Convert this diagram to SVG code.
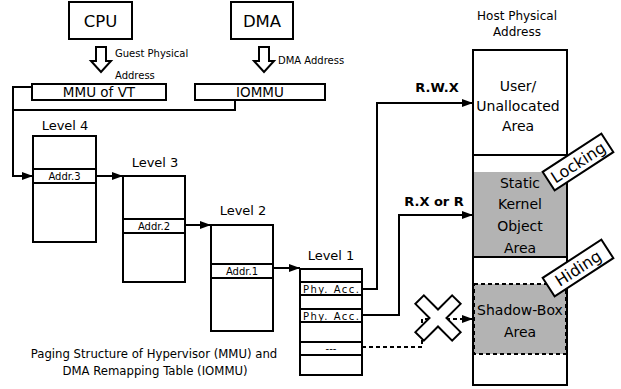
<svg xmlns="http://www.w3.org/2000/svg" width="621" height="389" viewBox="0 0 621 389">
<style>
text{font-family:"DejaVu Sans","Liberation Sans",sans-serif;fill:#000}
.box{fill:#fff;stroke:#000;stroke-width:2}
.ln{fill:none;stroke:#000;stroke-width:2}
.dash{fill:none;stroke:#000;stroke-width:2;stroke-dasharray:4,3}
.c{text-anchor:middle}
.big{font-size:16.5px}
.mid{font-size:13.5px}
.lvl{font-size:13px}
.sm{font-size:10px}
.host{font-size:14px}
.b{font-weight:bold;font-size:13px}
</style>
<defs>
<marker id="ah" markerUnits="userSpaceOnUse" markerWidth="12" markerHeight="10" refX="11" refY="5" orient="auto">
<path d="M0,1 L11,5 L0,9 z" fill="#000"/>
</marker>
</defs>

<g id="cpu"><rect class="box" x="69" y="2" width="63" height="37"/><text class="c big" x="100.5" y="27">CPU</text></g>
<g id="dma"><rect class="box" x="231" y="2" width="62" height="37"/><text class="c big" x="262" y="27">DMA</text></g>

<g id="cpu-arrow"><polygon class="box" points="96,47 106,47 106,61 111,61 101,72 91,61 96,61"/>
<text class="sm" x="115" y="57">Guest Physical</text><text class="sm" x="115" y="79">Address</text></g>
<g id="dma-arrow"><polygon class="box" points="259,47 269,47 269,61 274,61 264,72 254,61 259,61"/>
<text class="sm" x="278" y="64">DMA Address</text></g>

<g id="mmu"><rect class="box" x="32" y="84" width="134" height="16"/><text class="c mid" x="99" y="97">MMU of VT</text></g>
<g id="iommu"><rect class="box" x="195" y="84" width="130" height="16"/><text class="c mid" x="260" y="97">IOMMU</text></g>

<g id="level4"><text class="c lvl" x="65" y="130">Level 4</text>
<rect class="box" x="33" y="136" width="63" height="106"/>
<path class="ln" d="M33,169 H96 M33,183 H96"/>
<text class="c sm" x="64.5" y="180">Addr.3</text></g>

<g id="level3"><text class="c lvl" x="155" y="167">Level 3</text>
<rect class="box" x="123" y="176" width="62" height="106"/>
<path class="ln" d="M123,219 H185 M123,233 H185"/>
<text class="c sm" x="154" y="230">Addr.2</text></g>

<g id="level2"><text class="c lvl" x="243" y="215">Level 2</text>
<rect class="box" x="211" y="225" width="62" height="106"/>
<path class="ln" d="M211,264 H273 M211,278 H273"/>
<text class="c sm" x="242" y="275">Addr.1</text></g>

<g id="level1"><text class="c lvl" x="331" y="260">Level 1</text>
<rect class="box" x="300" y="269" width="62" height="106"/>
<path class="ln" d="M300,282 H362 M300,295 H362 M300,309 H362 M300,322 H362 M300,342 H362 M300,355 H362"/>
<text class="c sm" x="331" y="292.5" textLength="56">Phy. Acc.</text>
<text class="c sm" x="331" y="319.5" textLength="56">Phy. Acc.</text>
<text class="c sm" x="331" y="352">---</text></g>

<g id="host"><text class="c" style="font-size:12px" x="517" y="20">Host Physical</text>
<text class="c" style="font-size:12px" x="517" y="36">Address</text>
<rect class="box" x="473" y="50" width="94" height="335"/>
<rect x="474" y="172" width="92" height="85" fill="#b3b3b3"/>
<path class="ln" d="M473,155 H567 M473,257 H567"/>
<rect x="474" y="284" width="92" height="70" fill="#b3b3b3" stroke="#000" stroke-width="2" stroke-dasharray="4,3"/>
<path class="ln" d="M473,50 V385"/>
<text class="c host" x="518" y="91">User/</text>
<text class="c host" x="518" y="111">Unallocated</text>
<text class="c host" x="518" y="131">Area</text>
<text class="c host" x="520" y="188">Static</text>
<text class="c host" x="520" y="209">Kernel</text>
<text class="c host" x="520" y="231">Object</text>
<text class="c host" x="520" y="253">Area</text>
<text class="c host" x="520" y="315">Shadow-Box</text>
<text class="c host" x="520" y="337">Area</text></g>

<g id="connectors">
<path class="ln" d="M32,87 H13 V176 H33" marker-end="url(#ah)"/>
<path class="ln" d="M235,100 V110 H13"/>
<path class="ln" d="M96,176 H123" marker-end="url(#ah)"/>
<path class="ln" d="M185,225 H211" marker-end="url(#ah)"/>
<path class="ln" d="M273,268 H300" marker-end="url(#ah)"/>
<path class="ln" d="M362,289 H377 V103 H473" marker-end="url(#ah)"/>
<path class="ln" d="M362,315 H399 V215 H473" marker-end="url(#ah)"/>
<path class="dash" d="M362,347 H422 V319 H462"/>
<path d="M462,319 H473" stroke="#000" stroke-width="2" marker-end="url(#ah)"/>
<text class="c b" x="437" y="92">R.W.X</text>
<text class="c b" x="434" y="206">R.X or R</text>
</g>

<g id="cross"><polygon transform="translate(438,318) rotate(45)" fill="#fff" stroke="#000" stroke-width="2" points="-6,-26 6,-26 6,-6 26,-6 26,6 6,6 6,26 -6,26 -6,6 -26,6 -26,-6 -6,-6"/></g>

<g id="locking" transform="translate(578,162) rotate(-33)"><rect class="box" x="-35" y="-11" width="70" height="22"/><text class="c" style="font-size:16px" x="0" y="6">Locking</text></g>
<g id="hiding" transform="translate(578,268) rotate(-33)"><rect class="box" x="-35" y="-11" width="70" height="22"/><text class="c" style="font-size:16px" x="0" y="6">Hiding</text></g>

<g id="caption"><text class="c" style="font-size:11.7px" x="154" y="358">Paging Structure of Hypervisor (MMU) and</text>
<text class="c" style="font-size:11.7px" x="155" y="375">DMA Remapping Table (IOMMU)</text></g>
</svg>
